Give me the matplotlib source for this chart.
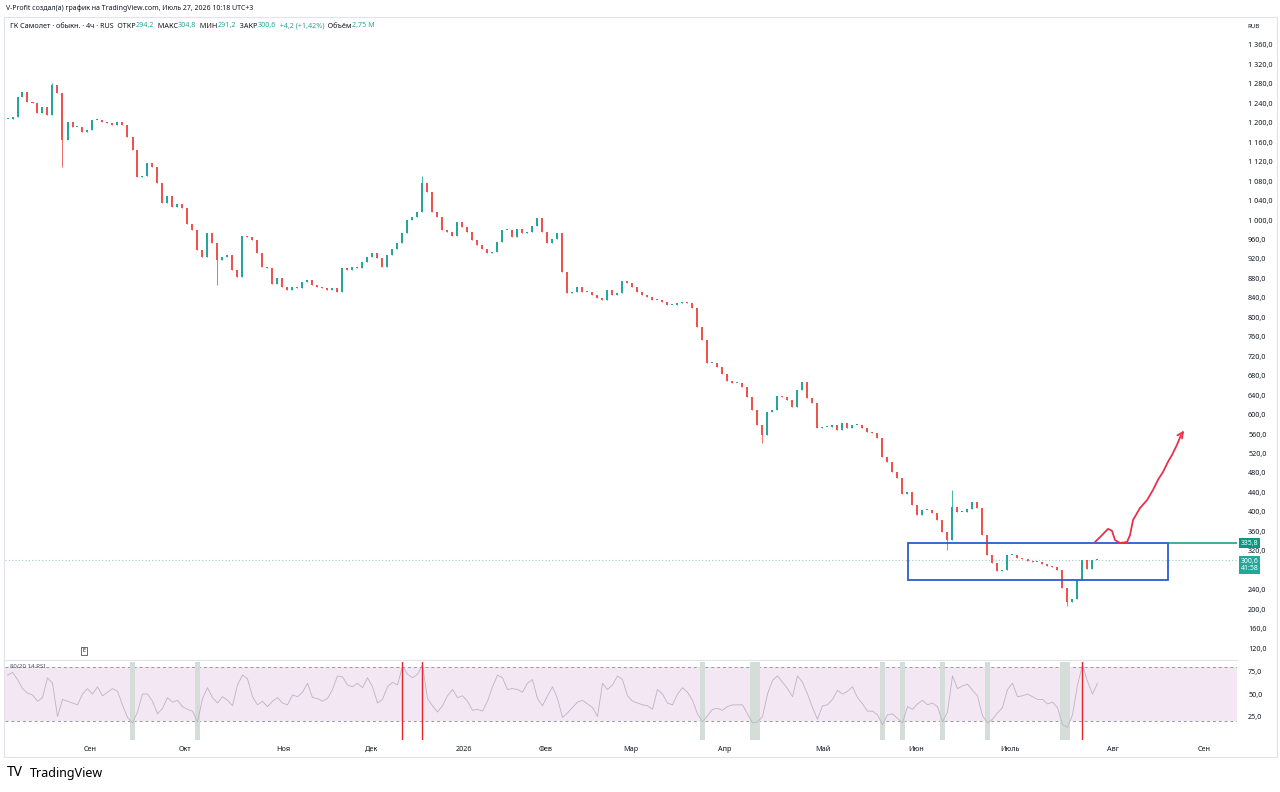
import numpy as np
import matplotlib.pyplot as plt
import matplotlib.transforms as mtransforms
from matplotlib.patches import Rectangle
from matplotlib.ticker import FuncFormatter

plt.rcParams['font.family'] = ['Noto Sans', 'DejaVu Sans']

# closes, one candle per step
closes = [
    1208, 1212, 1253, 1263, 1243, 1241, 1220, 1233, 1216, 1278,
    1261, 1165, 1202, 1191, 1191, 1181, 1185, 1206, 1206, 1202,
    1200, 1196, 1202, 1196, 1171, 1144, 1089, 1091, 1117, 1109,
    1076, 1035, 1050, 1027, 1033, 1025, 992, 980, 938, 924,
    973, 953, 918, 924, 928, 897, 883, 967, 965, 959,
    932, 904, 901, 869, 881, 862, 856, 862, 860, 873,
    877, 867, 862, 860, 856, 860, 852, 901, 897, 904,
    901, 914, 924, 932, 922, 904, 928, 940, 953, 973,
    1000, 1006, 1017, 1076, 1058, 1017, 1006, 979, 975, 967,
    996, 986, 975, 959, 949, 940, 932, 934, 955, 980,
    980, 965, 982, 973, 975, 988, 1004, 975, 953, 961,
    973, 893, 850, 852, 862, 852, 852, 846, 840, 836,
    856, 846, 850, 875, 871, 862, 852, 846, 842, 836,
    836, 832, 825, 825, 829, 832, 829, 819, 780, 753,
    706, 706, 698, 683, 669, 665, 665, 657, 636, 609,
    579, 558, 605, 609, 638, 636, 630, 616, 651, 667,
    634, 624, 572, 575, 575, 579, 568, 583, 572, 579,
    579, 572, 564, 562, 552, 513, 503, 482, 470, 437,
    441, 414, 394, 404, 404, 398, 383, 359, 342, 410,
    400, 400, 406, 420, 408, 352, 311, 295, 278, 280,
    311, 311, 305, 303, 299, 297, 297, 293, 289, 287,
    281, 243, 215, 221, 260, 301, 283, 301, 300.6,
]
wick_high = {9: 1282, 83: 1090, 189: 445}
wick_low = {11: 1109, 42: 867, 151: 541, 188: 322, 212: 206}

rsi = [
    71, 74, 66, 56, 51, 49, 42, 46, 68, 62,
    25, 44, 42, 40, 38, 50, 56, 50, 58, 48,
    52, 56, 53, 38, 24, 18, 30, 50, 50, 42,
    28, 34, 46, 41, 43, 36, 33, 31, 19, 45,
    57, 46, 40, 47, 43, 37, 60, 71, 67, 47,
    38, 42, 36, 42, 46, 40, 38, 49, 47, 52,
    62, 46, 45, 42, 45, 55, 70, 69, 60, 58,
    62, 57, 68, 58, 40, 44, 58, 63, 60, 81,
    72, 68, 72, 82, 45, 37, 30, 37, 48, 55,
    46, 48, 42, 32, 33, 31, 42, 58, 71, 68,
    55, 56, 55, 52, 62, 66, 45, 37, 48, 58,
    45, 24, 29, 35, 41, 43, 39, 35, 25, 62,
    55, 60, 70, 66, 48, 42, 40, 38, 37, 33,
    55, 50, 40, 38, 50, 57, 52, 43, 28, 19,
    26, 33, 34, 32, 36, 38, 38, 38, 28, 18,
    19, 25, 50, 65, 70, 63, 56, 47, 70, 63,
    50, 35, 22, 37, 38, 44, 54, 50, 53, 58,
    46, 39, 31, 31, 27, 16, 27, 28, 23, 18,
    36, 33, 39, 43, 38, 40, 36, 19, 30, 70,
    56, 59, 61, 54, 48, 26, 18, 22, 29, 35,
    55, 62, 47, 48, 50, 47, 44, 44, 39, 41,
    35, 16, 13, 27, 60, 82, 64, 50, 62,
]

month_labels = ['Сен', 'Окт', 'Ноя', 'Дек', '2026', 'Фев', 'Мар',
                'Апр', 'Май', 'Июн', 'Июль', 'Авг', 'Сен']
month_pos = [16.5, 35.5, 55.1, 72.9, 91.3, 107.7, 124.7,
             143.5, 163.1, 181.7, 200.5, 221.1, 239.3]

# 280 sits under the last-price label, as on the original
price_ticks = [p for p in range(120, 1361, 40) if p != 280]

last_close = 300.6
zone_top, zone_bottom = 335.8, 260.0
zone_start, zone_end = 180.1, 232.1

# hand drawn forecast arrow
arrow_x = [217.5, 218.7, 220.1, 220.9, 221.5, 222.5, 223.9, 224.5, 225.1,
           226.5, 227.9, 229.1, 230.1, 231.1, 232.1, 232.9, 233.9, 234.7]
arrow_y = [338, 350, 365, 361, 342, 336, 338, 352, 383,
           408, 424, 445, 466, 482, 503, 517, 538, 558]

UP, DOWN = '#26a69a', '#ef5350'
TEXT = '#131722'
W, H = 1280, 792

fig = plt.figure(figsize=(12.8, 7.92), dpi=100)
ax = fig.add_axes([5 / W, 1 - 660 / H, 1232 / W, 642 / H])
rax = fig.add_axes([5 / W, 1 - 740 / H, 1232 / W, 78 / H], sharex=ax)

# candles
c = np.array(closes, float)
x = np.arange(len(c))
o = np.r_[c[0], c[:-1]]
hi = np.maximum(o, c)
lo = np.minimum(o, c)
for i, v in wick_high.items():
    hi[i] = max(hi[i], v)
for i, v in wick_low.items():
    lo[i] = min(lo[i], v)
col = np.where(c >= o, UP, DOWN)
ax.vlines(x, lo, hi, colors=col, lw=0.6, zorder=3)
ax.bar(x, np.maximum(np.abs(c - o), 1.5), bottom=np.minimum(o, c), width=0.4,
       color=col, linewidth=0, zorder=3)

ax.set_xlim(-0.5, 245.9)
ax.set_ylim(95.4, 1415.5)

# current price line
ax.axhline(last_close, color='#9fc9c3', lw=0.8, ls=(0, (1, 2)), zorder=1)

# zone rectangle + level line
ax.add_patch(Rectangle((zone_start, zone_bottom), zone_end - zone_start,
                       zone_top - zone_bottom, fill=False, ec='#2a5bd7', lw=1.3, zorder=4))
ax.plot([zone_end, 245.9], [zone_top, zone_top], color='#089981', lw=1.1, zorder=4)

# forecast arrow
ax.plot(arrow_x, arrow_y, color='#e8314a', lw=1.3, solid_capstyle='round',
        solid_joinstyle='round', zorder=5)
ax.annotate('', xy=(arrow_x[-1] + 0.6, arrow_y[-1] + 9), xytext=(arrow_x[-1], arrow_y[-1]),
            arrowprops=dict(arrowstyle='->', color='#e8314a', lw=1.3, mutation_scale=10),
            zorder=5)

# price axis
ax.yaxis.tick_right()
ax.set_yticks(price_ticks)
ax.yaxis.set_major_formatter(
    FuncFormatter(lambda v, p: f"{v:,.1f}".replace(",", " ").replace(".", ",")))
ax.tick_params(axis='y', length=0, pad=8, labelsize=5.2, labelcolor=TEXT)
ax.tick_params(axis='x', length=0, labelbottom=False)
for s in ['top', 'left', 'right']:
    ax.spines[s].set_visible(False)
ax.spines['bottom'].set_color('#e0e3eb')
ax.spines['bottom'].set_linewidth(0.8)

tr = mtransforms.blended_transform_factory(ax.transAxes, ax.transData)
ax.text(1.003, zone_top, "335,8", transform=tr, ha='left', va='center', fontsize=5,
        color='white', zorder=10,
        bbox=dict(boxstyle='square,pad=0.25', fc='#089981', ec='none'))
ax.text(1.003, last_close - 10, "300,6\n41:58", transform=tr, ha='left', va='center',
        fontsize=5, color='white', linespacing=1.0, zorder=10,
        bbox=dict(boxstyle='square,pad=0.25', fc='#26a69a', ec='none'))

# RSI pane
rax.axhspan(20, 80, color='#f3e7f3', lw=0, zorder=0)
for lvl in (20, 80):
    rax.axhline(lvl, color='#9598a1', lw=0.7, ls=(0, (3, 3)), zorder=1)
r = np.array(rsi, float)
for i in np.where(r < 20)[0]:
    rax.axvspan(i - 0.5, i + 0.5, color='#d5ddd8', lw=0, zorder=1)
for i in np.where(r > 80)[0]:
    rax.axvline(i, color='#e5242f', lw=1.0, zorder=3)
rax.plot(x, r, color='#bfb3c3', lw=0.6, zorder=2)
rax.set_ylim(-1, 85.5)
rax.yaxis.tick_right()
rax.set_yticks([25, 50, 75])
rax.set_yticklabels(['25,0', '50,0', '75,0'])
rax.tick_params(axis='y', length=0, pad=8, labelsize=5.2, labelcolor=TEXT)
rax.set_xticks(month_pos)
rax.set_xticklabels(month_labels)
rax.tick_params(axis='x', length=0, pad=4, labelsize=5.2, labelcolor=TEXT)
for lab in rax.get_xticklabels():
    if lab.get_text() == '2026':
        lab.set_fontweight('bold')
for s in rax.spines.values():
    s.set_visible(False)
rax.text(0.004, 80, "80/20 14 RSI", transform=mtransforms.blended_transform_factory(
    rax.transAxes, rax.transData), fontsize=4.4, color='#50535e', va='center', zorder=4)

# outer frame
fig.add_artist(Rectangle((4 / W, 1 - 757 / H), 1273 / W, 740 / H, transform=fig.transFigure,
                         fill=False, ec='#e0e3eb', lw=0.8))

# header
fig.text(6 / W, 1 - 8 / H, "V-Profit создал(а) график на TradingView.com, Июль 27, 2026 10:18 UTC+3",
         fontsize=5.0, color=TEXT, va='center')

fig.canvas.draw()
renderer = fig.canvas.get_renderer()
pieces = [("ГК Самолет · обыкн. · 4ч · RUS  ОТКР", TEXT), ("294,2", UP),
          ("  МАКС", TEXT), ("304,8", UP), ("  МИН", TEXT), ("291,2", UP),
          ("  ЗАКР", TEXT), ("300,6", UP), ("  +4,2 (+1,42%)", UP),
          ("  Объём", TEXT), ("2,75 M", UP)]
px = 10
for txt, colr in pieces:
    t = fig.text(px / W, 1 - 26 / H, txt, fontsize=5.2, color=colr, va='center')
    px += t.get_window_extent(renderer).width

fig.text(1247 / W, 1 - 27 / H, "RUB", fontsize=4.4, color=TEXT, va='center')
fig.text(84 / W, 1 - 651 / H, "E", fontsize=4, color=TEXT, ha='center', va='center',
         bbox=dict(boxstyle='square,pad=0.3', fc='white', ec='#50535e', lw=0.6))

# footer logo
fig.text(7 / W, 1 - 773 / H, "TV", fontsize=10, fontweight='black', color='black', va='center')
fig.text(30 / W, 1 - 773 / H, "TradingView", fontsize=9, fontweight='bold', color='black',
         va='center')

fig.savefig('out.png', dpi=100, facecolor='white')
